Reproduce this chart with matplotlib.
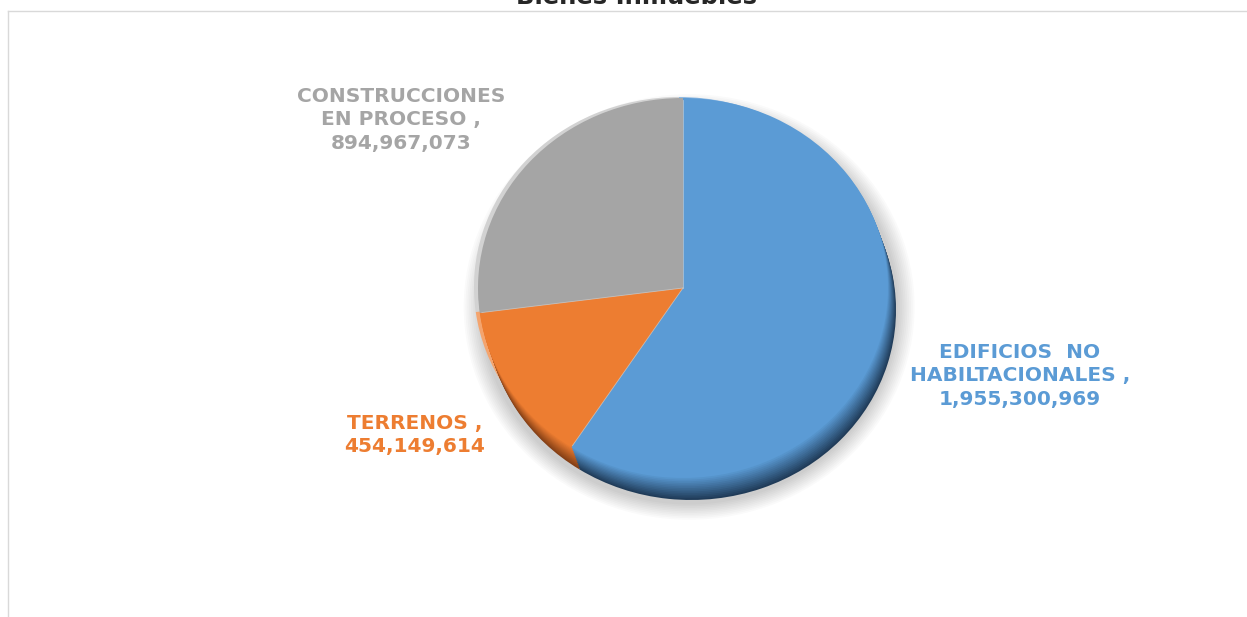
import numpy as np
import matplotlib
matplotlib.use("Agg")
from matplotlib import pyplot as plt
from matplotlib.colors import to_rgb
from matplotlib.patches import Ellipse

# data
categories = ["EDIFICIOS  NO\nHABILTACIONALES", "TERRENOS", "CONSTRUCCIONES\nEN PROCESO"]
values = [1955300969, 454149614, 894967073]
colors = ["#5B9BD5", "#ED7D31", "#A5A5A5"]
dark_colors = ["#203C59", "#843F16", "#7A7A7A"]
light_colors = ["#8DB8E2", "#F4A46E", "#D2D2D2"]
label_text = ["EDIFICIOS  NO\nHABILTACIONALES ,\n1,955,300,969",
              "TERRENOS ,\n454,149,614",
              "CONSTRUCCIONES\nEN PROCESO ,\n894,967,073"]

W, H = 1247, 617
fig = plt.figure(figsize=(W / 100, H / 100), dpi=100)
bg = fig.add_axes([0, 0, 1, 1])
bg.set_xlim(0, W)
bg.set_ylim(H, 0)
bg.axis("off")

# chart border (only top and left visible)
bg.plot([8, W], [11, 11], color="#D9D9D9", lw=1)
bg.plot([8, 8], [11, H], color="#D9D9D9", lw=1)

# title (cut at the top)
bg.text(636, 4, "Bienes Inmuebles", ha="center", va="baseline",
        fontsize=17.5, fontweight="bold", color="#262626")

# pie axes: ellipse face around (683, 288)
cx, cy, rx, ry = 683, 288, 205, 190
pad = 1.4
ax = fig.add_axes([(cx - rx * pad) / W, (H - cy - ry * pad) / H,
                   2 * rx * pad / W, 2 * ry * pad / H])
ax.axis("off")

# soft shadow
for i in range(10):
    t = i / 9
    e = Ellipse((0.03, -0.10), 2 * (1.10 - 0.08 * t), 2 * (1.12 - 0.08 * t),
                color="#000000", alpha=0.018, lw=0)
    ax.add_patch(e)

# light rim toward top-left
ax.pie(values, colors=light_colors, startangle=90, counterclock=False,
       radius=1.0, center=(-4 / rx, 1 / ry), wedgeprops=dict(lw=0))

# dark depth layers toward bottom-right
n = 14
for i in range(n):
    t = 1 - i / (n - 1)
    cols = [tuple(np.array(to_rgb(d)) * t + np.array(to_rgb(c)) * (1 - t))
            for d, c in zip(dark_colors, colors)]
    ax.pie(values, colors=cols, startangle=90, counterclock=False,
           radius=1.0, center=(8 * t / rx, -22 * t / ry), wedgeprops=dict(lw=0))

# face
ax.pie(values, colors=colors, startangle=90, counterclock=False, radius=0.99,
       wedgeprops=dict(lw=0))
# faint light lines between slices
ang = 90 - np.cumsum([0] + values[:-1]) / sum(values) * 360
for a in ang:
    ax.plot([0, 0.99 * np.cos(np.radians(a))], [0, 0.99 * np.sin(np.radians(a))],
            color="#D0D0D0", lw=0.6, alpha=0.7)

ax.set_aspect("auto")
ax.set_xlim(-pad, pad)
ax.set_ylim(-pad, pad)

# data labels
label_pos = [(1020, 376), (415, 435), (401, 120)]
for (x, y), txt, c in zip(label_pos, label_text, colors):
    bg.text(x, y, txt, ha="center", va="center", fontsize=14.5, fontweight="bold",
            color=c, linespacing=1.3)

fig.savefig("out.png", dpi=100)
